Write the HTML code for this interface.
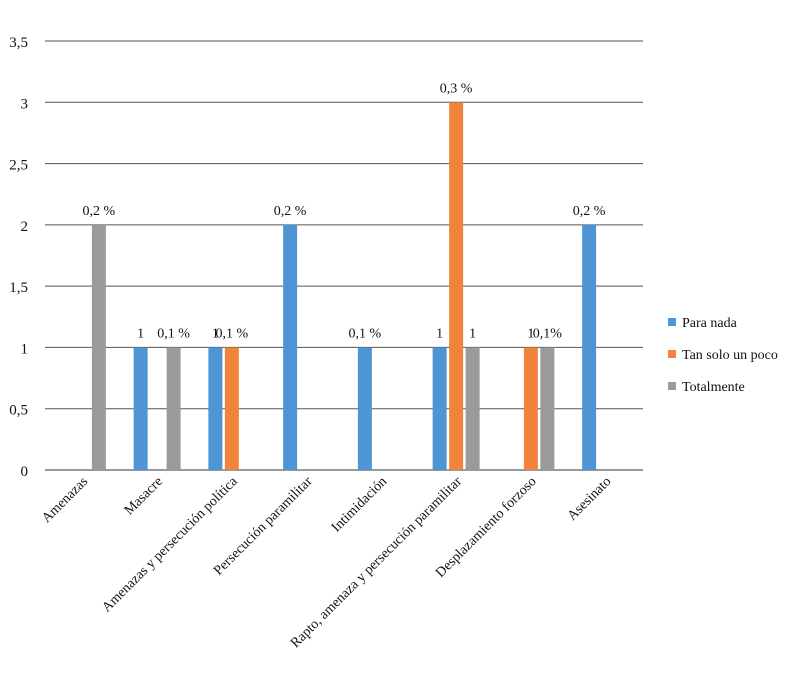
<!DOCTYPE html>
<html><head><meta charset="utf-8"><style>
body{margin:0;background:#fff;}
svg text{font-family:"Liberation Serif","DejaVu Serif",serif;fill:#111;}
</style></head><body>
<svg id="chart" width="800" height="686" xmlns="http://www.w3.org/2000/svg"></svg>
<script>
const categories=["Amenazas","Masacre","Amenazas y persecución política","Persecución paramilitar","Intimidación","Rapto, amenaza y persecución paramilitar","Desplazamiento forzoso","Asesinato"];
const seriesNames=["Para nada","Tan solo un poco","Totalmente"];
const paraNada=[0,1,1,2,1,1,0,2];
const tanSolo=[0,0,1,0,0,3,1,0];
const totalmente=[2,1,0,0,0,1,1,0];
const labelsParaNada=["","1","1","0,2 %","0,1 %","1","","0,2 %"];
const labelsTanSolo=["","","0,1 %","","","0,3 %","1",""];
const labelsTotalmente=["0,2 %","0,1 %","","","","1","0,1%",""];
const yTicks=[0,0.5,1,1.5,2,2.5,3,3.5];
const yTickLabels=["0","0,5","1","1,5","2","2,5","3","3,5"];
const colors=["#4F95D5","#F0843C","#999B9B"];
const svg=document.getElementById('chart');
const NS="http://www.w3.org/2000/svg";
const x0=45,x1=643,y0=470,yTop=41,ymax=3.5;
const y=v=>y0-(v/ymax)*(y0-yTop);
const bw=(x1-x0)/categories.length;
const cx=i=>x0+bw*(i+0.5);
function mk(t,a){const e=document.createElementNS(NS,t);for(const k in a)e.setAttribute(k,a[k]);svg.appendChild(e);return e;}
yTicks.forEach((v,i)=>{
 const l=mk('line',{x1:x0,x2:x1,y1:y(v),y2:y(v),stroke:i==0?'#333':'#555','stroke-width':1});
 
 
 const t=mk('text',{x:28,y:y(v)+6,'text-anchor':'end','font-size':15});
 t.textContent=yTickLabels[i];
 
 
});
const series=[paraNada,tanSolo,totalmente];
const labels=[labelsParaNada,labelsTanSolo,labelsTotalmente];
const offs=[-16.5,0,16.5];
series.forEach((s,si)=>{
 s.forEach((v,i)=>{
  if(v<=0)return;
  const bx=cx(i)+offs[si];
  const r=mk('rect',{x:bx-7,y:y(v),width:14,height:y0-y(v),fill:colors[si]});
  
  
  const lab=labels[si][i];
  if(lab){
   const t=mk('text',{x:bx,y:y(v)-10,'text-anchor':'middle','font-size':14});
   t.textContent=lab;
   
   
  }
 });
});
categories.forEach((c,i)=>{
 const X=cx(i)+6,Y=482;
 const t=mk('text',{x:X,y:Y,'text-anchor':'end','font-size':14,transform:`rotate(-45 ${X} ${Y})`});
 t.textContent=c;
 
 
});
seriesNames.forEach((n,i)=>{
 const ly=322+i*32;
 const r=mk('rect',{x:668,y:ly-4,width:8,height:8,fill:colors[i]});
 
 
 const t=mk('text',{x:682,y:ly+5,'font-size':14});
 t.textContent=n;
 
 
});
</script>
</body></html>
